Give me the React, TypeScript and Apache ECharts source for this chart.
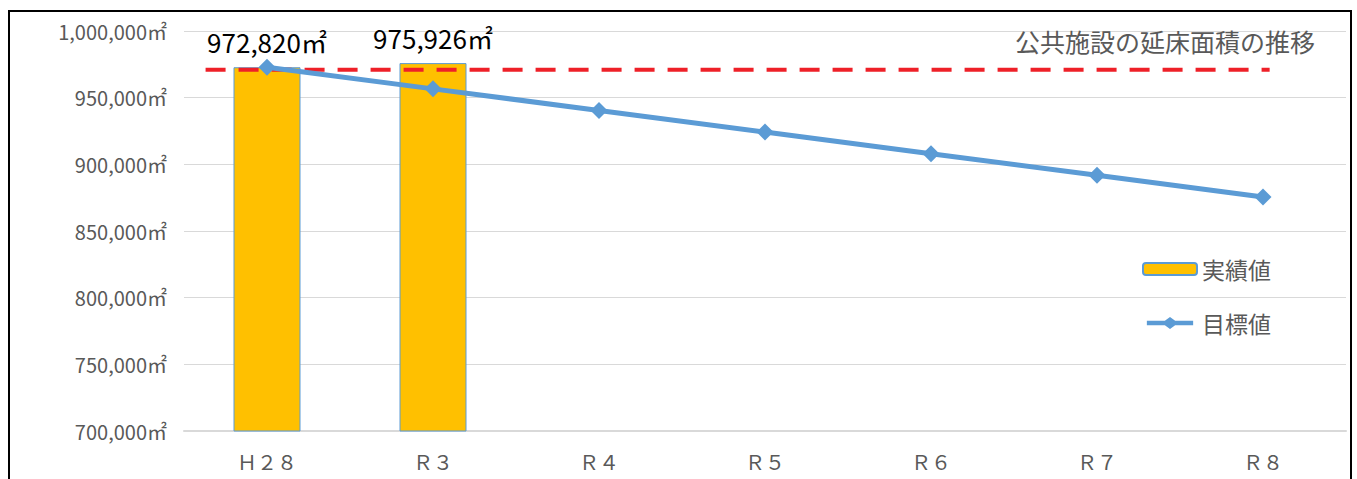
import React, { useEffect, useRef } from "react";
import * as echarts from "echarts";

const categories = ["Ｈ２８", "Ｒ３", "Ｒ４", "Ｒ５", "Ｒ６", "Ｒ７", "Ｒ８"];
const actualValues: (number | null)[] = [972820, 975926, null, null, null, null, null];
const targetValues = [972820, 956606, 940393, 924179, 907965, 891752, 875538];
const referenceLevel = 971000;
const referenceStart = -0.37;
const referenceEnd = 6.04;
const yTicks = { min: 700000, max: 1000000, interval: 50000 };
const titleText = "公共施設の延床面積の推移";
const seriesNames = ["実績値", "目標値"];

const FONT = '"Noto Sans CJK JP", "Noto Sans", sans-serif';
const fmt = (v: number) => v.toLocaleString("en-US") + "㎡";
const LINE_ICON = "path://M0,4.5 L21,4.5 L27,0 L33,4.5 L54,4.5 L54,9.5 L33,9.5 L27,14 L21,9.5 L0,9.5 Z";

export default function App() {
  const ref = useRef<HTMLDivElement>(null);
  useEffect(() => {
    if (!ref.current) return;
    const chart = echarts.init(ref.current, undefined, { renderer: "svg" });
    chart.setOption({
      animation: false,
      backgroundColor: "#ffffff",
      textStyle: { fontFamily: FONT },
      title: {
        text: titleText,
        right: 35,
        top: 16,
        padding: 0,
        textStyle: { fontSize: 25, fontWeight: "normal", color: "#595959", fontFamily: FONT },
      },
      legend: {
        orient: "vertical",
        left: 1132,
        top: 245,
        padding: 0,
        itemGap: 30,
        itemWidth: 54,
        itemHeight: 12,
        textStyle: { fontSize: 23, color: "#595959", fontFamily: FONT, lineHeight: 24 },
        data: [
          { name: seriesNames[0] },
          {
            name: seriesNames[1],
            icon: LINE_ICON,
            itemStyle: { color: "#5B9BD5", borderWidth: 0 },
          },
        ],
      },
      grid: { left: 174, top: 19, width: 1162, height: 400 },
      xAxis: [
        {
          type: "category",
          data: categories,
          axisLine: { lineStyle: { color: "#d9d9d9", width: 2 } },
          axisTick: { show: false },
          axisLabel: { fontSize: 20, color: "#595959", margin: 20, fontFamily: FONT },
        },
        {
          type: "value",
          min: -0.5,
          max: 6.5,
          show: false,
        },
      ],
      yAxis: {
        type: "value",
        min: yTicks.min,
        max: yTicks.max,
        interval: yTicks.interval,
        axisLine: { show: false },
        axisTick: { show: false },
        splitLine: { lineStyle: { color: "#d9d9d9", width: 1 } },
        axisLabel: {
          fontSize: 20,
          color: "#595959",
          margin: 17,
          fontFamily: FONT,
          formatter: (v: number) => fmt(v),
        },
      },
      series: [
        {
          name: seriesNames[0],
          type: "bar",
          data: actualValues,
          barWidth: 67,
          itemStyle: { color: "#FFC000", borderColor: "#5B9BD5", borderWidth: 1 },
          label: {
            show: true,
            position: "top",
            distance: 13,
            fontSize: 26,
            color: "#000000",
            fontFamily: FONT,
            formatter: (p: any) => fmt(p.value),
          },
          z: 1,
        },
        {
          name: "基準",
          type: "line",
          xAxisIndex: 1,
          data: [
            [referenceStart, referenceLevel],
            [referenceEnd, referenceLevel],
          ],
          symbol: "none",
          lineStyle: { color: "#EE2028", width: 4, type: [20, 13] },
          z: 2,
          silent: true,
        },
        {
          name: seriesNames[1],
          type: "line",
          data: targetValues,
          symbol: "diamond",
          symbolSize: 17,
          itemStyle: { color: "#5B9BD5" },
          lineStyle: { color: "#5B9BD5", width: 5 },
          z: 3,
        },
      ],
    });
    return () => chart.dispose();
  }, []);

  return (
    <div
      style={{
        position: "fixed",
        left: 0,
        top: 0,
        width: 1357,
        height: 479,
        overflow: "hidden",
        background: "#ffffff",
      }}
    >
      <div
        style={{
          position: "absolute",
          left: 8,
          top: 10,
          width: 1344,
          height: 500,
          border: "2px solid #000",
          boxSizing: "border-box",
        }}
      >
        <div ref={ref} style={{ width: 1340, height: 480 }} />
      </div>
    </div>
  );
}
